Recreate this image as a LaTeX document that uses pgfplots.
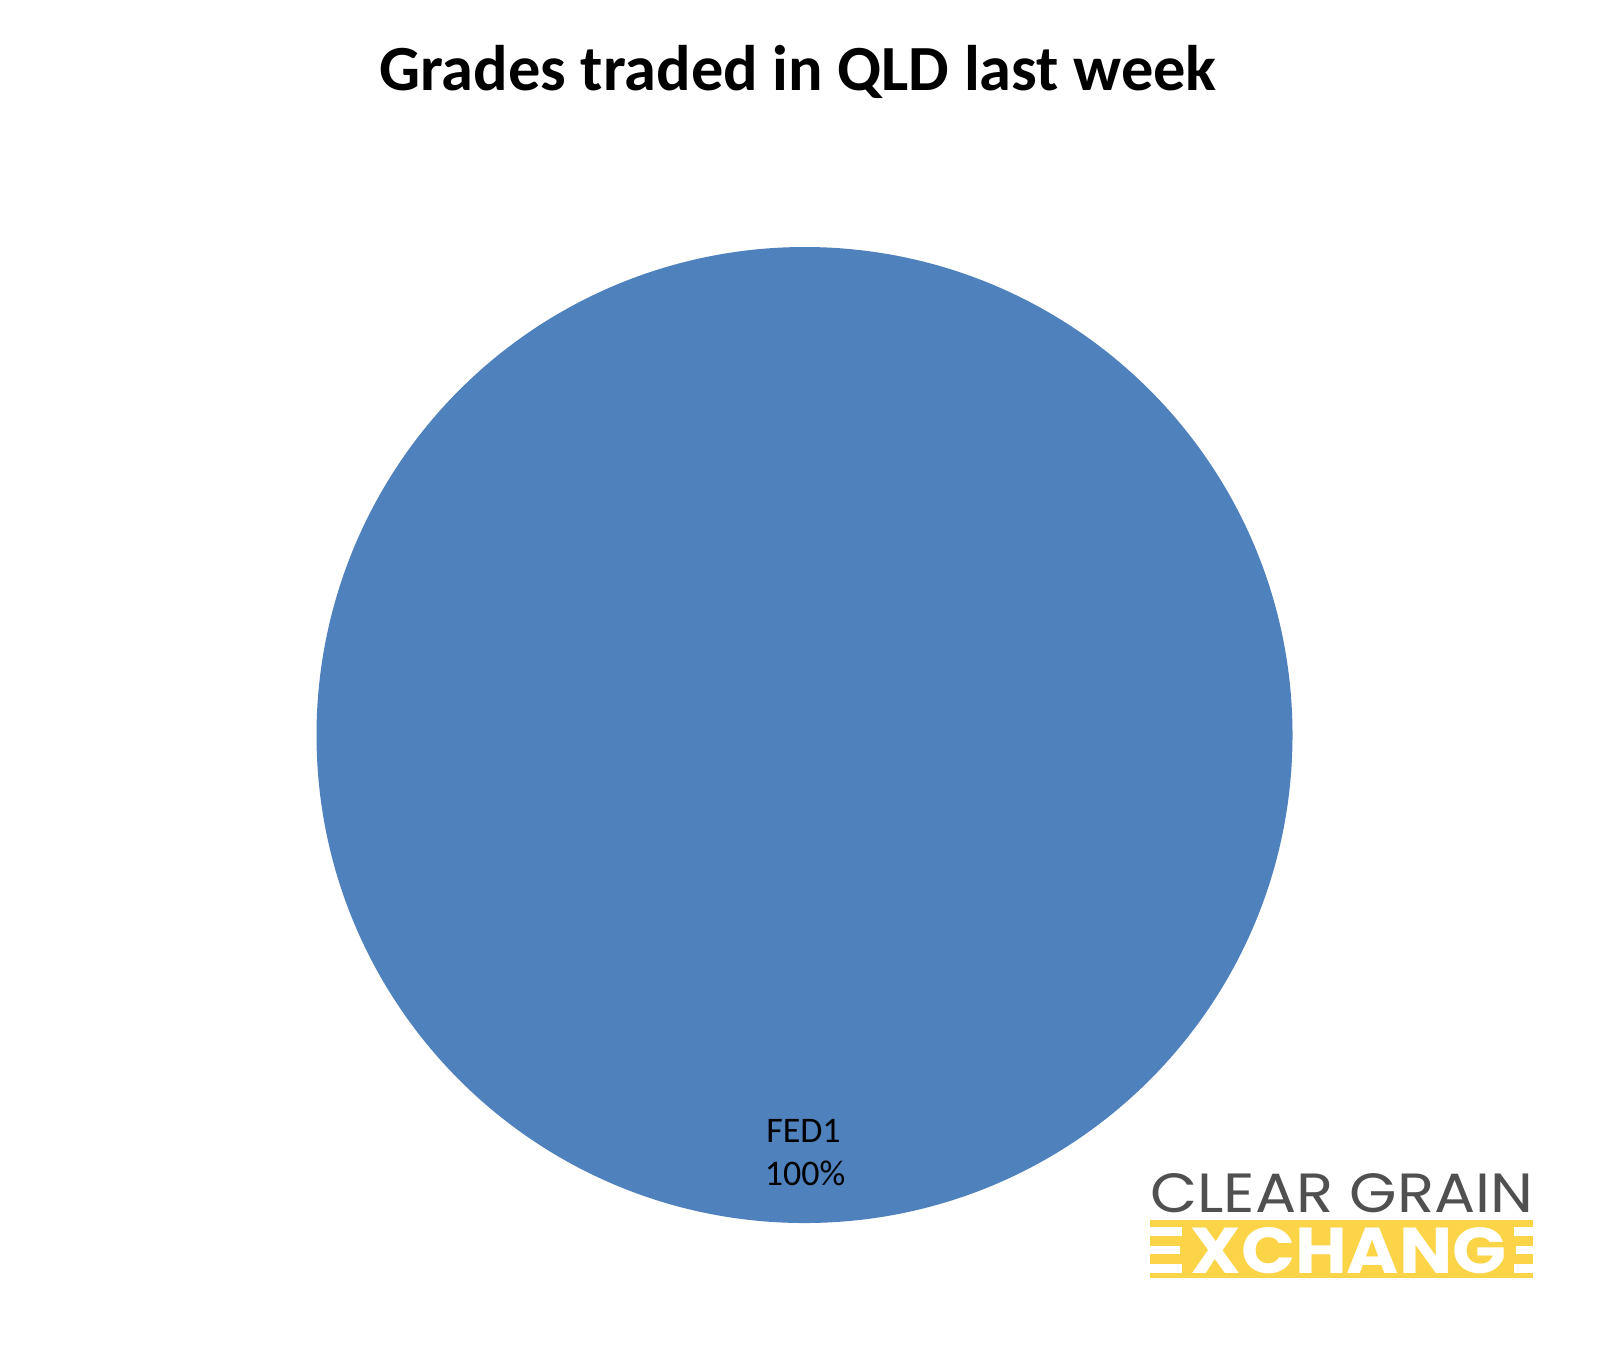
\documentclass[border=0pt]{standalone}
\usepackage{fontspec}
\setmainfont{Carlito}
\newfontfamily\logofont{Poppins}
\usepackage{pgfplots}
\usepackage{pgfplotstable}
\pgfplotsset{compat=1.18}
\definecolor{pieblue}{HTML}{4F81BD}
\definecolor{logogray}{HTML}{505050}
\definecolor{logoyellow}{HTML}{FCD448}
\pgfplotstableread{
grade value
FED1 100
}\gradetable
\begin{document}
\begin{tikzpicture}
\begin{axis}[
  width=804.5pt, height=675.5pt, scale only axis,
  xmin=0, xmax=1609, ymin=0, ymax=1351, y dir=reverse,
  hide axis, clip=false,
]
\addplot[draw=none, forget plot] coordinates {(0,0) (1609,1351)};
\fill[white] (axis cs:0,0) rectangle (axis cs:1609,1351);
% pie (single slice from the data table)
\pgfplotstablegetelem{0}{value}\of\gradetable
\pgfmathsetmacro{\sliceangle}{3.6*\pgfplotsretval}
\fill[pieblue] (axis cs:804.5,735) -- ++(90:244pt) arc[start angle=90, delta angle=-\sliceangle, radius=244pt] -- cycle;
% labels
\node[anchor=base, inner sep=0pt, font=\fontsize{18pt}{21pt}\selectfont] at (axis cs:803.5,1142) {FED1};
\node[anchor=base, inner sep=0pt, font=\fontsize{18pt}{21pt}\selectfont] at (axis cs:805,1185) {100\%};
% title
\node[anchor=base, inner sep=0pt, font=\fontsize{32.2pt}{39pt}\selectfont\bfseries] at (axis cs:798,90) {Grades traded in QLD last week};
% logo
\node[anchor=base west, inner sep=0pt, text=logogray] at (axis cs:1150,1212) {\resizebox{191.5pt}{19.5pt}{\logofont CLEAR GRAIN}};
\fill[logoyellow] (axis cs:1150,1220) rectangle (axis cs:1533,1278);
\fill[white] (axis cs:1150,1227) rectangle (axis cs:1182,1236);
\fill[white] (axis cs:1150,1246) rectangle (axis cs:1180,1254);
\fill[white] (axis cs:1150,1264) rectangle (axis cs:1182,1273);
\fill[white] (axis cs:1514,1227) rectangle (axis cs:1533,1236);
\fill[white] (axis cs:1516,1246) rectangle (axis cs:1533,1254);
\fill[white] (axis cs:1514,1264) rectangle (axis cs:1533,1273);
\node[anchor=base west, inner sep=0pt, text=white] at (axis cs:1190,1273) {\resizebox{158pt}{23pt}{\logofont\bfseries XCHANG}};
\end{axis}
\end{tikzpicture}
\end{document}
